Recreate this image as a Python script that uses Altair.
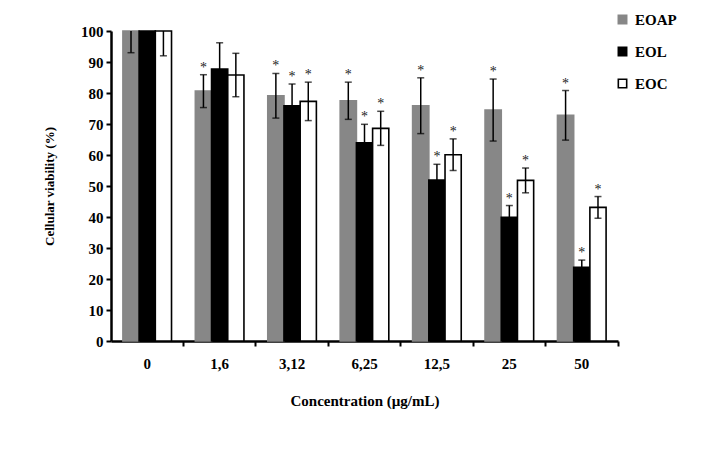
import altair as alt
import pandas as pd

concentrations = ["0", "1,6", "3,12", "6,25", "12,5", "25", "50"]
series_names = ["EOAP", "EOL", "EOC"]
y_ticks = [0, 10, 20, 30, 40, 50, 60, 70, 80, 90, 100]

eoap = [100, 80.6, 79.1, 77.5, 75.9, 74.5, 72.8]
eoap_err = [7.0, 5.3, 7.2, 6.0, 9.0, 10.0, 8.0]
eoap_star = [0, 1, 1, 1, 1, 1, 1]

eol = [100, 87.7, 75.9, 63.9, 51.9, 39.9, 23.8]
eol_err = [5.0, 8.5, 7.0, 6.0, 5.1, 3.8, 2.3]
eol_star = [0, 0, 1, 1, 1, 1, 1]

eoc = [100, 85.8, 77.3, 68.6, 60.1, 51.8, 43.1]
eoc_err = [8.0, 7.0, 6.2, 5.5, 5.1, 4.0, 3.5]
eoc_star = [0, 0, 1, 1, 1, 1, 1]

rows = []
for name, vals, errs, stars in [("EOAP", eoap, eoap_err, eoap_star),
                                 ("EOL", eol, eol_err, eol_star),
                                 ("EOC", eoc, eoc_err, eoc_star)]:
    for c, v, e, s in zip(concentrations, vals, errs, stars):
        rows.append({"conc": c, "series": name, "value": v,
                     "lower": v - e, "upper": v + e,
                     "star": "*" if s else ""})
df = pd.DataFrame(rows)

FONT = "Liberation Serif"
W, H = 507, 310

x_axis = alt.Axis(labelAngle=0, bandPosition=1,
                  tickSize=5, tickWidth=2, tickColor="black",
                  domainColor="black", domainWidth=2.5,
                  labelFont=FONT, labelFontSize=15, labelFontWeight="bold",
                  labelColor="black", labelPadding=10,
                  titleFont=FONT, titleFontSize=15, titleFontWeight="bold",
                  titleColor="black", titlePadding=22)
y_axis = alt.Axis(values=y_ticks, grid=False, labelOverlap=False, tickCount=11,
                  tickSize=5, tickWidth=2, tickColor="black",
                  domainColor="black", domainWidth=2.5,
                  labelFont=FONT, labelFontSize=15, labelFontWeight="bold",
                  labelColor="black", labelPadding=3,
                  titleFont=FONT, titleFontSize=13, titleFontWeight="bold",
                  titleColor="black", titlePadding=24)

x_enc = alt.X("conc:N", sort=concentrations, title="Concentration (µg/mL)",
              scale=alt.Scale(paddingInner=0, paddingOuter=0), axis=x_axis)
xoff = alt.XOffset("series:N", sort=series_names,
                   scale=alt.Scale(paddingInner=0, paddingOuter=0.735))
y_scale = alt.Scale(domain=[0, 100])
YT = "Cellular viability (%)"

base = alt.Chart(df)

bars = base.mark_bar(strokeWidth=1.6).encode(
    x=x_enc,
    xOffset=xoff,
    y=alt.Y("value:Q", scale=y_scale, title=YT, axis=y_axis),
    fill=alt.Fill("series:N", sort=series_names,
                  scale=alt.Scale(domain=series_names, range=["#878787", "#000000", "#ffffff"]),
                  legend=alt.Legend(title=None, orient="none", legendX=504, legendY=-19,
                                    symbolType="square", symbolSize=70, symbolStrokeWidth=1.6,
                                    labelFont=FONT, labelFontSize=15, labelFontWeight="bold",
                                    labelColor="black", labelOffset=5, rowPadding=16,
                                    padding=0)),
    stroke=alt.Stroke("series:N", sort=series_names,
                      scale=alt.Scale(domain=series_names, range=["#878787", "#000000", "#000000"])),
)

rules = base.mark_rule(color="black", strokeWidth=1.5, clip=True).encode(
    x=x_enc,
    xOffset=xoff,
    y=alt.Y("lower:Q", scale=y_scale, title=YT, axis=y_axis),
    y2="upper:Q",
)
caps_hi = base.mark_tick(color="black", thickness=1.5, size=7, clip=True).encode(
    x=x_enc,
    xOffset=xoff,
    y=alt.Y("upper:Q", scale=y_scale, title=YT, axis=y_axis),
)
caps_lo = base.mark_tick(color="black", thickness=1.5, size=7, clip=True).encode(
    x=x_enc,
    xOffset=xoff,
    y=alt.Y("lower:Q", scale=y_scale, title=YT, axis=y_axis),
)
stars = base.mark_text(font=FONT, fontSize=14, color="#222222",
                       baseline="alphabetic", dy=-3).encode(
    x=x_enc,
    xOffset=xoff,
    y=alt.Y("upper:Q", scale=y_scale, title=YT, axis=y_axis),
    text="star:N",
)

chart = alt.layer(bars, rules, caps_hi, caps_lo, stars).properties(
    width=W, height=H,
    autosize=alt.AutoSizeParams(type="none"),
    padding={"left": 103, "top": 23, "right": 80, "bottom": 120},
    background="white",
).configure_view(stroke=None)

chart.save("out.html", embed_options={"renderer": "svg", "actions": False})
